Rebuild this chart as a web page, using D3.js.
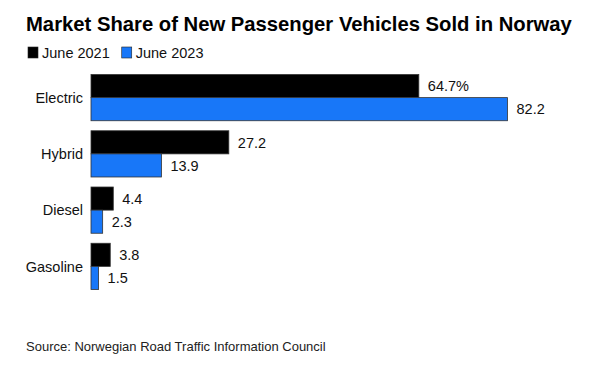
<!DOCTYPE html>
<html><head><meta charset="utf-8">
<script src="https://cdn.jsdelivr.net/npm/d3@7"></script>
<style>body{margin:0;background:#fff}svg{display:block}text{font-family:"Liberation Sans",Arial,sans-serif}</style>
</head><body>
<script>
const categories = ["Electric","Hybrid","Diesel","Gasoline"];
const june2021 = [64.7,27.2,4.4,3.8];
const june2023 = [82.2,13.9,2.3,1.5];
const seriesNames = ["June 2021","June 2023"];
const colors = ["#000000","#1877f8"];
const valueLabels2021 = ["64.7%","27.2","4.4","3.8"];
const valueLabels2023 = ["82.2","13.9","2.3","1.5"];

const W=597,H=368;
const svg=d3.select("body").append("svg").attr("width",W).attr("height",H);
svg.append("rect").attr("width",W).attr("height",H).attr("fill","#fff");

const title=svg.append("text").attr("x",26).attr("y",31).attr("font-weight","bold")
 .attr("font-size",19).attr("fill","#000").text("Market Share of New Passenger Vehicles Sold in Norway");
const tw=title.node().getComputedTextLength();
title.attr("font-size",19*546/tw);

const fs=14.5;
// legend
const leg=svg.append("g");
let lx=28;
seriesNames.forEach((n,i)=>{
  leg.append("rect").attr("x",lx).attr("y",47).attr("width",10).attr("height",11).attr("fill",colors[i]).attr("stroke","#222").attr("stroke-width",0.6);
  const t=leg.append("text").attr("x",lx+14).attr("y",57.5).attr("font-size",fs).attr("fill","#111").text(n);
  lx+=14+t.node().getComputedTextLength()+12;
});

const x0=91;
const x=d3.scaleLinear().domain([0,82.2]).range([x0,507.5]);
const y=d3.scaleBand().domain(categories).range([74.5,289.5]).paddingInner(0.178).paddingOuter(0);
const y2=d3.scaleBand().domain([0,1]).range([0,y.bandwidth()]);

const data=categories.map((c,i)=>({c,vals:[june2021[i],june2023[i]],labs:[valueLabels2021[i],valueLabels2023[i]]}));
const g=svg.append("g");
data.forEach(d=>{
  d.vals.forEach((v,j)=>{
    g.append("rect").attr("x",x(0)).attr("y",y(d.c)+y2(j)).attr("width",x(v)-x(0)).attr("height",y2.bandwidth())
     .attr("fill",colors[j]).attr("stroke","#333").attr("stroke-width",0.8);
    g.append("text").attr("x",x(v)+9).attr("y",y(d.c)+y2(j)+y2.bandwidth()/2+5.2).attr("font-size",fs).attr("fill","#111").text(d.labs[j]);
  });
  g.append("text").attr("x",83).attr("y",y(d.c)+y.bandwidth()/2+5.3).attr("text-anchor","end").attr("font-size",fs).attr("fill","#111").text(d.c);
});

svg.append("text").attr("x",26).attr("y",351).attr("font-size",13).attr("fill","#222").text("Source: Norwegian Road Traffic Information Council");
</script>
</body></html>
